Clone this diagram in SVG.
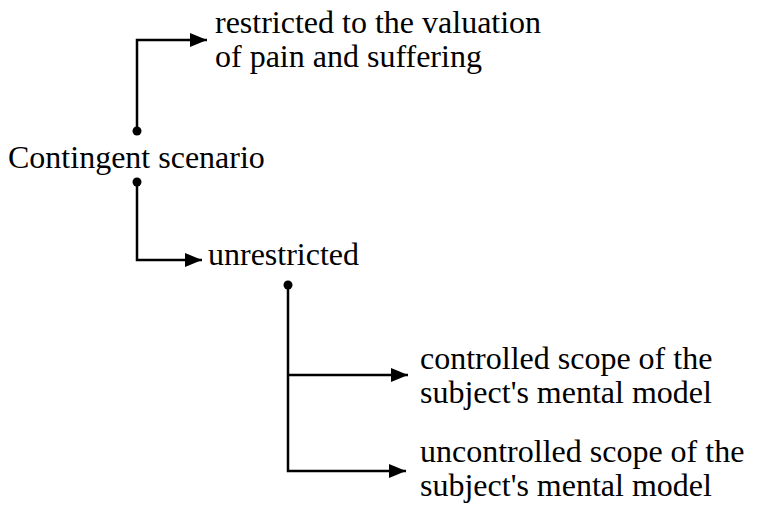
<svg xmlns="http://www.w3.org/2000/svg" width="768" height="510" viewBox="0 0 768 510">
<defs>
<style>
text{font-family:'Liberation Serif','Times New Roman','DejaVu Serif',serif;font-size:32px;fill:#000;}
.c{fill:none;stroke:#000;stroke-width:2.5;}
.d{fill:#000;}
</style>
<marker id="ah" markerWidth="17" markerHeight="14" refX="17" refY="7" orient="auto" markerUnits="userSpaceOnUse">
<path d="M0,0 L17,7 L0,14 Z" fill="#000"/>
</marker>
</defs>
<rect width="768" height="510" fill="#fff"/>
<g id="connectors">
<path class="c" d="M137,131 V40 H207" marker-end="url(#ah)"/>
<circle class="d" cx="137" cy="131" r="4.5"/>
<path class="c" d="M137,182 V260 H202" marker-end="url(#ah)"/>
<circle class="d" cx="137" cy="182" r="4.5"/>
<path class="c" d="M288,285 V471 H406" marker-end="url(#ah)"/>
<path class="c" d="M288,375 H408" marker-end="url(#ah)"/>
<circle class="d" cx="288" cy="285" r="4.5"/>
</g>
<g id="node-contingent">
<text x="8" y="168" font-family="Liberation Serif, serif">Contingent scenario</text>
</g>
<g id="node-restricted">
<text x="215" y="33">restricted to the valuation</text>
<text x="215" y="67">of pain and suffering</text>
</g>
<g id="node-unrestricted">
<text x="208" y="265">unrestricted</text>
</g>
<g id="node-controlled">
<text x="420" y="369">controlled scope of the</text>
<text x="420" y="403">subject's mental model</text>
</g>
<g id="node-uncontrolled">
<text x="420" y="462">uncontrolled scope of the</text>
<text x="420" y="496">subject's mental model</text>
</g>
</svg>
